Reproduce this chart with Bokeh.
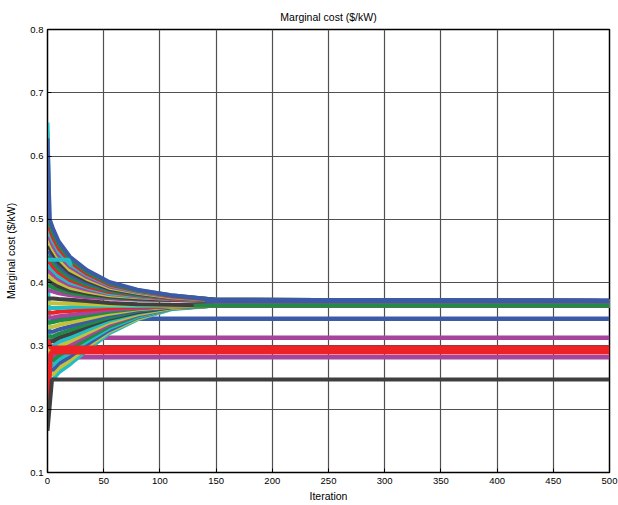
from bokeh.plotting import figure
from bokeh.models import Range1d, FixedTicker
from bokeh.embed import file_html
from bokeh.resources import INLINE

# ---------------- data ----------------
TITLE = "Marginal cost ($/kW)"
X_LABEL = "Iteration"
Y_LABEL = "Marginal cost ($/kW)"
X_TICKS = [0, 50, 100, 150, 200, 250, 300, 350, 400, 450, 500]
Y_TICKS = [0.1, 0.2, 0.3, 0.4, 0.5, 0.6, 0.7, 0.8]

# iteration sample points of the converging curves
ITER = [0, 2, 5, 10, 20, 35, 55, 80, 110, 150, 500]

# curves converging from above (values at ITER)
UPPER = [
    [0.628, 0.500, 0.485, 0.465, 0.441, 0.420, 0.401, 0.389, 0.380, 0.373, 0.371],
    [0.4925, 0.4925, 0.478, 0.460, 0.437, 0.417, 0.399, 0.388, 0.380, 0.373, 0.371],
    [0.485, 0.485, 0.471, 0.454, 0.433, 0.414, 0.397, 0.387, 0.379, 0.373, 0.371],
    [0.653, 0.4775, 0.465, 0.449, 0.429, 0.412, 0.396, 0.386, 0.379, 0.373, 0.371],
    [0.470, 0.470, 0.458, 0.443, 0.425, 0.409, 0.394, 0.385, 0.378, 0.372, 0.371],
    [0.640, 0.4625, 0.452, 0.438, 0.420, 0.406, 0.392, 0.384, 0.377, 0.372, 0.371],
    [0.455, 0.455, 0.445, 0.432, 0.416, 0.403, 0.390, 0.383, 0.377, 0.372, 0.371],
    [0.4475, 0.4475, 0.438, 0.427, 0.412, 0.400, 0.389, 0.382, 0.376, 0.372, 0.371],
    [0.440, 0.440, 0.432, 0.421, 0.408, 0.397, 0.387, 0.381, 0.376, 0.372, 0.371],
    [0.4325, 0.4325, 0.425, 0.416, 0.404, 0.394, 0.385, 0.380, 0.375, 0.372, 0.371],
    [0.425, 0.425, 0.419, 0.410, 0.400, 0.392, 0.383, 0.379, 0.375, 0.372, 0.371],
    [0.4175, 0.4175, 0.412, 0.405, 0.396, 0.389, 0.382, 0.378, 0.374, 0.372, 0.371],
    [0.410, 0.410, 0.405, 0.400, 0.392, 0.386, 0.380, 0.377, 0.374, 0.372, 0.371],
    [0.4025, 0.4025, 0.399, 0.394, 0.388, 0.383, 0.378, 0.375, 0.373, 0.371, 0.371],
    [0.395, 0.395, 0.392, 0.389, 0.384, 0.380, 0.377, 0.374, 0.373, 0.371, 0.371],
    [0.3875, 0.3875, 0.386, 0.383, 0.380, 0.377, 0.375, 0.373, 0.372, 0.371, 0.371],
]
UPPER_COLORS = ["#3d5aa8", "#1f8b47", "#ec2227", "#22bcc4", "#a6459c", "#c1c13b", "#3f3f3f",
                "#3d5aa8", "#1f8b47", "#ec2227", "#22bcc4", "#a6459c", "#c1c13b", "#3f3f3f",
                "#1f8b47", "#a6459c"]

# curves converging from below (values at ITER)
LOWER = [
    [0.375, 0.375, 0.375, 0.374, 0.373, 0.371, 0.368, 0.366, 0.365, 0.364, 0.364],
    [0.3675, 0.3675, 0.3675, 0.367, 0.367, 0.366, 0.365, 0.365, 0.364, 0.364, 0.364],
    [0.360, 0.360, 0.360, 0.360, 0.361, 0.362, 0.363, 0.363, 0.364, 0.364, 0.364],
    [0.3525, 0.3525, 0.3525, 0.354, 0.355, 0.357, 0.360, 0.362, 0.363, 0.364, 0.364],
    [0.345, 0.345, 0.345, 0.347, 0.349, 0.352, 0.357, 0.360, 0.363, 0.364, 0.364],
    [0.3375, 0.3375, 0.3375, 0.340, 0.343, 0.348, 0.354, 0.359, 0.363, 0.364, 0.364],
    [0.330, 0.330, 0.330, 0.333, 0.337, 0.343, 0.351, 0.358, 0.362, 0.364, 0.364],
    [0.3225, 0.3225, 0.3225, 0.326, 0.331, 0.339, 0.348, 0.356, 0.362, 0.364, 0.364],
    [0.315, 0.315, 0.315, 0.319, 0.325, 0.334, 0.345, 0.355, 0.362, 0.364, 0.364],
    [0.3075, 0.3075, 0.3075, 0.313, 0.319, 0.330, 0.343, 0.353, 0.361, 0.364, 0.364],
    [0.436, 0.300, 0.300, 0.306, 0.313, 0.325, 0.340, 0.352, 0.361, 0.364, 0.364],
    [0.2925, 0.2925, 0.2925, 0.299, 0.307, 0.320, 0.337, 0.350, 0.360, 0.364, 0.364],
    [0.285, 0.285, 0.285, 0.292, 0.301, 0.316, 0.334, 0.349, 0.360, 0.364, 0.364],
    [0.2775, 0.2775, 0.2775, 0.285, 0.295, 0.311, 0.331, 0.348, 0.360, 0.364, 0.364],
    [0.270, 0.270, 0.270, 0.279, 0.289, 0.307, 0.328, 0.346, 0.359, 0.364, 0.364],
    [0.2625, 0.2625, 0.2625, 0.272, 0.283, 0.302, 0.325, 0.345, 0.359, 0.364, 0.364],
    [0.255, 0.255, 0.255, 0.265, 0.277, 0.298, 0.323, 0.343, 0.359, 0.364, 0.364],
    [0.2475, 0.2475, 0.2475, 0.258, 0.271, 0.293, 0.320, 0.342, 0.358, 0.364, 0.364],
]
LOWER_COLORS = ["#3f3f3f", "#c1c13b", "#22bcc4", "#ec2227", "#a6459c", "#1f8b47",
                "#c1c13b", "#3d5aa8", "#1f8b47", "#3f3f3f", "#22bcc4", "#c1c13b",
                "#a6459c", "#1f8b47", "#22bcc4", "#3d5aa8", "#c1c13b", "#22bcc4"]

# lines drawn beneath the families (x list, y list, colour)
UNDER_X = [[0, 500], [0, 500], [0, 500]]
UNDER_Y = [[0.343, 0.343], [0.313, 0.313], [0.282, 0.282]]
UNDER_C = ["#3d5aa8", "#a6459c", "#a6459c"]

# lines drawn on top of the families
TOP_X = [
    [0, 2, 19, 21],
    [0, 3, 500],
    [0, 3, 500],
    [0, 4, 500],
    [130, 500],
    [140, 500],
]
TOP_Y = [
    [0.436, 0.436, 0.436, 0.426],
    [0.310, 0.297, 0.297],
    [0.198, 0.290, 0.290],
    [0.166, 0.247, 0.247],
    [0.3635, 0.3635],
    [0.3715, 0.3715],
]
TOP_C = ["#22bcc4", "#ec2227", "#ec2227", "#3f3f3f", "#1f8b47", "#3d5aa8"]
TOP_W = [4, 4.5, 4.5, 4, 3.5, 5]

# ---------------- figure ----------------
FONT = "Liberation Sans"
p = figure(width=618, height=505, output_backend="svg", toolbar_location=None,
           x_range=Range1d(0, 500), y_range=Range1d(0.1, 0.8),
           min_border_left=47, min_border_right=9, min_border_top=29, min_border_bottom=33,
           title=TITLE)
p.background_fill_color = "white"
p.border_fill_color = "white"
p.outline_line_color = "black"
p.outline_line_width = 1.5

p.title.align = "center"
p.title.vertical_align = "top"
p.title.text_font = FONT
p.title.text_font_style = "normal"
p.title.text_font_size = "10.5px"
p.title.text_color = "black"
p.title.standoff = 10

p.xaxis.ticker = FixedTicker(ticks=X_TICKS)
p.yaxis.ticker = FixedTicker(ticks=Y_TICKS)
p.xaxis.axis_label = X_LABEL
p.yaxis.axis_label = Y_LABEL
for ax in (p.xaxis, p.yaxis):
    ax.major_tick_in = 4
    ax.major_tick_out = 0
    ax.minor_tick_line_color = None
    ax.axis_line_color = "black"
    ax.major_tick_line_color = "black"
    ax.major_label_text_font = FONT
    ax.major_label_text_font_size = "9.5px"
    ax.major_label_text_color = "black"
    ax.axis_label_text_font = FONT
    ax.axis_label_text_font_size = "10.5px"
    ax.axis_label_text_font_style = "normal"
    ax.axis_label_text_color = "black"
p.xaxis.major_label_standoff = 5
p.xaxis.axis_label_standoff = 3
p.yaxis.major_label_standoff = 4
p.yaxis.axis_label_standoff = 10

p.grid.grid_line_color = "#505050"
p.grid.grid_line_width = 1.2

for xs, ys, c in zip(UNDER_X, UNDER_Y, UNDER_C):
    p.line(xs, ys, line_color=c, line_width=4.5)

for i in reversed(range(len(LOWER))):
    p.line(ITER, LOWER[i], line_color=LOWER_COLORS[i], line_width=4)

for i in reversed(range(len(UPPER))):
    p.line(ITER, UPPER[i], line_color=UPPER_COLORS[i], line_width=4)

for xs, ys, c, w in zip(TOP_X, TOP_Y, TOP_C, TOP_W):
    p.line(xs, ys, line_color=c, line_width=w)

open("out.html", "w").write(file_html(p, INLINE))
